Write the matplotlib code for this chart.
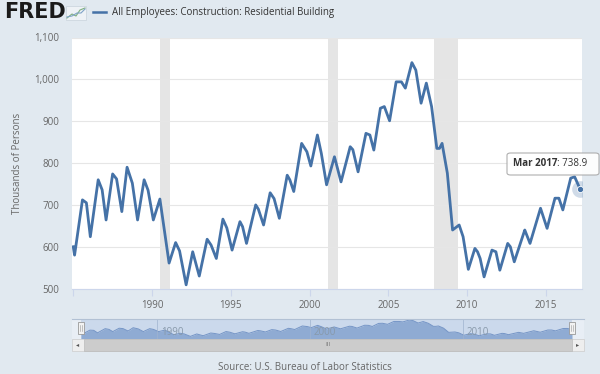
import numpy as np
import matplotlib
matplotlib.use("Agg")
import matplotlib.pyplot as plt
from matplotlib.patches import Rectangle, FancyBboxPatch
from matplotlib.lines import Line2D

plt.rcParams['font.family'] = ['Open Sans', 'DejaVu Sans']

# readings (thousands of persons, not seasonally adjusted)
dates = ['1985-01', '1985-02', '1985-08', '1985-11', '1986-02', '1986-08', '1986-11',
         '1987-02', '1987-07', '1987-10', '1988-02', '1988-06', '1988-10', '1989-02',
         '1989-07', '1989-10', '1990-02', '1990-07', '1991-02', '1991-07', '1991-10',
         '1992-03', '1992-08', '1993-01', '1993-07', '1993-10', '1994-02', '1994-07',
         '1994-10', '1995-02', '1995-08', '1995-10', '1996-01', '1996-08', '1996-10',
         '1997-02', '1997-07', '1997-10', '1998-02', '1998-08', '1998-10', '1999-01',
         '1999-07', '1999-11', '2000-02', '2000-07', '2000-10', '2001-02', '2001-08',
         '2002-01', '2002-08', '2002-10', '2003-02', '2003-08', '2003-11', '2004-02',
         '2004-07', '2004-10', '2005-02', '2005-07', '2005-11', '2006-02', '2006-07',
         '2006-10', '2007-02', '2007-06', '2007-10', '2008-02', '2008-04', '2008-06',
         '2008-10', '2009-02', '2009-07', '2009-10', '2010-02', '2010-07', '2010-09',
         '2010-11', '2011-02', '2011-08', '2011-11', '2012-02', '2012-08', '2012-10',
         '2013-01', '2013-09', '2013-10', '2014-01', '2014-09', '2015-02', '2015-08',
         '2015-11', '2016-02', '2016-08', '2016-11', '2017-03']
employees = [600, 580, 712, 705, 624, 760, 736,
             664, 774, 762, 684, 790, 752, 664,
             760, 735, 664, 714, 561, 610, 590,
             509, 588, 530, 618, 604, 572, 666,
             645, 592, 660, 648, 608, 700, 690,
             652, 729, 715, 668, 771, 760, 732,
             847, 827, 793, 867, 823, 748, 815,
             755, 839, 832, 779, 871, 867, 831,
             931, 935, 901, 994, 994, 979, 1040,
             1022, 943, 991, 935, 835, 835, 847,
             776, 640, 652, 624, 546, 596, 588,
             572, 528, 592, 588, 544, 608, 600,
             564, 640, 632, 608, 692, 644, 716,
             716, 688, 764, 767, 738.9]

recessions = [(1990.50, 1991.17), (2001.17, 2001.83), (2007.92, 2009.42)]
x_ticks = [1985, 1990, 1995, 2000, 2005, 2010, 2015]
y_ticks = [500, 600, 700, 800, 900, 1000, 1100]
nav_ticks = [1990, 2000, 2010]

t = np.array([int(d[:4]) + (int(d[5:]) - 1) / 12 for d in dates])
v = np.array(employees)

W, H = 600, 374
bg = '#E1E9F0'
line_c = '#4572A7'
grey_txt = '#666666'

fig = plt.figure(figsize=(W / 100, H / 100), dpi=100, facecolor=bg)


def fx(px):
    return px / W


def fy(py):
    return 1 - py / H


# main plot
ax = fig.add_axes([fx(72), fy(288.6), fx(582 - 72), (288.6 - 37.5) / H])
ax.set_facecolor('white')
for a, b in recessions:
    ax.axvspan(a, b, color='#E5E5E5', lw=0, zorder=1)
ax.plot(t, v, color=line_c, lw=2.0, zorder=3, solid_joinstyle='round')
ax.plot(t[-1], v[-1], 'o', ms=12, color=line_c, alpha=0.25, mec='none', zorder=4)
ax.plot(t[-1], v[-1], 'o', ms=4.5, color=line_c, mec='white', mew=0.6, zorder=5)
ax.set_xlim(1984.92, 2017.3)
ax.set_ylim(500, 1100)
ax.set_yticks(y_ticks)
ax.set_yticklabels(['{:,}'.format(y) for y in y_ticks])
ax.set_xticks(x_ticks)
ax.set_xticklabels([''] + [str(x) for x in x_ticks[1:]])
ax.grid(axis='y', color='#E6E6E6', lw=0.8, zorder=0)
for s in ['top', 'right', 'left']:
    ax.spines[s].set_visible(False)
ax.spines['bottom'].set_color('#CCD6EB')
ax.tick_params(axis='y', length=0, pad=9, labelsize=7, labelcolor=grey_txt)
ax.tick_params(axis='x', length=5, color='#CCD6EB', pad=3, labelsize=7, labelcolor=grey_txt)
ax.set_ylabel('Thousands of Persons', fontsize=7, color=grey_txt, labelpad=8)

# tooltip
tip = FancyBboxPatch((fx(507), fy(175)), fx(92), (175 - 153) / H,
                     boxstyle='round,pad=0,rounding_size=0.006', transform=fig.transFigure,
                     fc='white', ec='#A8A8A8', lw=0.8, alpha=0.92, zorder=10)
fig.patches.append(tip)
tb = fig.text(fx(513), fy(164), 'Mar 2017', fontsize=7, fontweight='bold', color='#333333',
              va='center', zorder=11)
fig.canvas.draw()
bb = tb.get_window_extent()
fig.text(bb.x1 / W, fy(164), ': 738.9', fontsize=7, color='#333333', va='center', zorder=11)

# header
fig.text(fx(4), fy(12), 'FRED', fontsize=15, fontweight='heavy', color='#1A1A1A',
         family=['DejaVu Sans'], va='center')
icon = Rectangle((fx(66), fy(20)), fx(20), 14 / H, transform=fig.transFigure,
                 fc='#EEF2F6', ec='#C8D2DC', lw=0.5)
fig.patches.append(icon)
fig.lines.append(Line2D([fx(67), fx(72), fx(76), fx(80), fx(85)],
                        [fy(18), fy(14), fy(16), fy(10), fy(8)],
                        transform=fig.transFigure, color='#7FB07F', lw=0.8))
fig.lines.append(Line2D([fx(67), fx(72), fx(77), fx(81), fx(85)],
                        [fy(17), fy(16), fy(13), fy(13), fy(9)],
                        transform=fig.transFigure, color='#7FA3C7', lw=0.8))
fig.lines.append(Line2D([fx(93), fx(106)], [fy(12), fy(12)], transform=fig.transFigure,
                        color=line_c, lw=1.8))
fig.text(fx(112), fy(12), 'All Employees: Construction: Residential Building', fontsize=7,
         color='#333333', va='center')

# navigator
outer = Rectangle((fx(72), fy(338.5)), fx(512), 20 / H, transform=fig.transFigure,
                  fc='#E8EEF5', ec='none', zorder=0)
fig.patches.append(outer)
fig.lines.append(Line2D([fx(72), fx(584)], [fy(318.5), fy(318.5)], transform=fig.transFigure,
                        color='#B2C1D4', lw=0.8))
nav = fig.add_axes([fx(81), fy(338.5), fx(572 - 81), 20 / H])
nav.set_zorder(2)
nav.set_facecolor('#CBD9EC')
nav.fill_between(t, v, 440, color='#8FABD3', lw=0)
nav.plot(t, v, color='#7595C6', lw=0.7)
nav.set_xlim(t[0], t[-1])
nav.set_ylim(440, 1090)
nav.set_xticks([])
nav.set_yticks([])
for s in nav.spines.values():
    s.set_visible(False)
for yr in nav_ticks:
    nav.axvline(yr, color='#9FB3CF', lw=0.5)
    nav.text(yr + 0.25, 640, str(yr), fontsize=7, color='#8899AA', va='center')
for hx in [81, 572]:
    h = Rectangle((fx(hx - 3), fy(334)), fx(6), 12 / H, transform=fig.transFigure,
                  fc='#F2F2F2', ec='#999999', lw=0.6, zorder=6)
    fig.patches.append(h)
    fig.lines.append(Line2D([fx(hx - 0.8), fx(hx - 0.8)], [fy(331), fy(325)],
                            transform=fig.transFigure, color='#999999', lw=0.4, zorder=7))
    fig.lines.append(Line2D([fx(hx + 0.8), fx(hx + 0.8)], [fy(331), fy(325)],
                            transform=fig.transFigure, color='#999999', lw=0.4, zorder=7))

# scrollbar
track = Rectangle((fx(72), fy(351)), fx(512), 12 / H, transform=fig.transFigure,
                  fc='#EEEEEE', ec='#CCCCCC', lw=0.5)
fig.patches.append(track)
thumb = Rectangle((fx(84), fy(351)), fx(488), 12 / H, transform=fig.transFigure,
                  fc='#CCCCCC', ec='#BBBBBB', lw=0.5)
fig.patches.append(thumb)
fig.text(fx(328), fy(345), 'III', fontsize=4.5, color='#777777', ha='center', va='center')
fig.text(fx(78), fy(345), '◂', fontsize=4.5, color='#555555', ha='center', va='center',
         family=['DejaVu Sans'])
fig.text(fx(578), fy(345), '▸', fontsize=4.5, color='#555555', ha='center', va='center',
         family=['DejaVu Sans'])

fig.text(fx(305), fy(367), 'Source: U.S. Bureau of Labor Statistics', fontsize=7,
         color=grey_txt, ha='center', va='center')

fig.savefig('out.png', dpi=100, facecolor=bg)
